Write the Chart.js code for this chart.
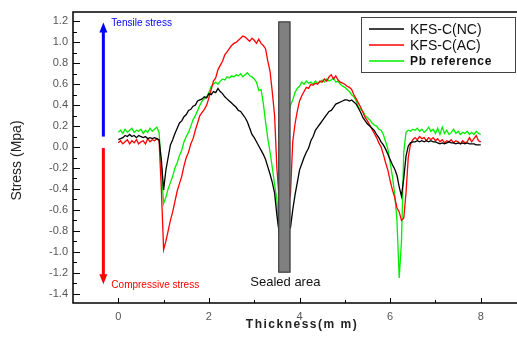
<!DOCTYPE html>
<html><head><meta charset="utf-8">
<script src="https://cdn.jsdelivr.net/npm/chart.js@4.4.0/dist/chart.umd.min.js"></script>
<style>html,body{margin:0;padding:0;background:#fff;}</style>
</head><body>
<canvas id="c" width="517" height="342"></canvas>
<script>
// sampling grid of the thickness axis (mm)
const thickness = Array.from({length:161},(_,i)=>Math.round(i*5)/100);
const seriesNames = ['KFS-C(NC)','KFS-C(AC)','Pb reference'];
const stressNC = [
 0.07,0.08,0.09,0.11,0.10,0.12,0.10,0.11,0.09,0.11,0.10,0.09,0.10,0.08,0.09,0.08,0.09,0.08,0.07,-0.12,
 -0.41,-0.22,-0.10,0.02,0.07,0.13,0.18,0.23,0.25,0.29,0.31,0.35,0.36,0.39,0.40,0.44,0.45,0.46,0.48,0.47,
 0.51,0.50,0.53,0.52,0.56,0.53,0.51,0.48,0.46,0.44,0.42,0.40,0.38,0.35,0.34,0.31,0.28,0.24,0.18,0.12,
 0.09,0.05,0.01,-0.03,-0.07,-0.12,-0.19,-0.26,-0.34,-0.44,-0.65,-0.82,-0.85,-0.85,-0.82,-0.79,-0.77,-0.60,-0.46,-0.34,
 -0.22,-0.16,-0.10,-0.05,-0.01,0.06,0.10,0.16,0.19,0.22,0.25,0.28,0.31,0.34,0.35,0.38,0.41,0.42,0.43,0.44,
 0.45,0.45,0.44,0.45,0.43,0.41,0.37,0.33,0.28,0.25,0.22,0.20,0.18,0.16,0.12,0.09,0.05,0.02,-0.02,-0.07,
 -0.12,-0.17,-0.21,-0.27,-0.38,-0.47,-0.30,-0.09,0.01,0.04,0.05,0.05,0.06,0.05,0.06,0.05,0.06,0.05,0.06,0.05,
 0.05,0.04,0.03,0.04,0.03,0.04,0.05,0.04,0.04,0.03,0.04,0.03,0.04,0.03,0.04,0.03,0.03,0.03,0.02,0.02,
 0.02];
const stressAC = [
 0.04,0.06,0.03,0.05,0.07,0.03,0.06,0.04,0.07,0.03,0.05,0.06,0.03,0.08,0.05,0.07,0.06,0.08,0.06,-0.40,
 -0.98,-0.90,-0.80,-0.70,-0.62,-0.52,-0.42,-0.35,-0.28,-0.18,-0.10,-0.05,0.03,0.08,0.16,0.23,0.30,0.33,0.36,0.40,
 0.47,0.55,0.63,0.66,0.74,0.78,0.82,0.88,0.91,0.94,0.97,0.99,1.00,1.02,1.04,1.06,1.05,1.03,1.01,1.04,
 1.02,0.99,1.03,0.99,0.97,0.94,0.82,0.72,0.52,0.30,-0.20,-0.50,-0.70,-0.75,-0.70,-0.55,-0.45,0.05,0.22,0.34,
 0.44,0.49,0.53,0.57,0.56,0.60,0.59,0.61,0.60,0.63,0.62,0.65,0.63,0.67,0.69,0.65,0.68,0.64,0.62,0.61,
 0.60,0.58,0.57,0.55,0.50,0.46,0.42,0.38,0.33,0.28,0.25,0.21,0.17,0.13,0.09,0.04,0.00,-0.07,-0.15,-0.22,
 -0.32,-0.41,-0.48,-0.58,-0.62,-0.70,-0.68,-0.44,-0.10,0.03,0.07,0.09,0.07,0.10,0.08,0.09,0.06,0.09,0.07,0.09,
 0.06,0.08,0.05,0.07,0.04,0.06,0.05,0.07,0.04,0.06,0.05,0.03,0.06,0.04,0.05,0.09,0.05,0.08,0.11,0.06,
 0.05];
const stressPb = [
 0.14,0.16,0.13,0.17,0.14,0.16,0.18,0.14,0.16,0.15,0.17,0.13,0.16,0.14,0.18,0.15,0.17,0.19,0.14,-0.20,
 -0.54,-0.48,-0.40,-0.34,-0.28,-0.20,-0.15,-0.08,-0.03,0.05,0.10,0.14,0.20,0.26,0.30,0.35,0.40,0.44,0.46,0.48,
 0.52,0.58,0.60,0.62,0.60,0.63,0.65,0.64,0.67,0.66,0.68,0.67,0.69,0.68,0.70,0.67,0.69,0.71,0.68,0.67,
 0.65,0.62,0.54,0.55,0.42,0.24,0.08,-0.05,-0.20,-0.36,-0.50,-0.85,-0.60,-0.10,0.10,0.30,0.40,0.45,0.52,0.56,
 0.58,0.62,0.60,0.63,0.61,0.62,0.60,0.63,0.61,0.62,0.64,0.62,0.65,0.63,0.64,0.66,0.62,0.63,0.60,0.58,
 0.57,0.55,0.53,0.50,0.48,0.44,0.38,0.36,0.34,0.30,0.28,0.26,0.23,0.21,0.20,0.17,0.16,0.12,0.05,-0.02,
 -0.15,-0.28,-0.45,-0.70,-1.25,-0.90,-0.05,0.14,0.16,0.15,0.17,0.16,0.18,0.15,0.17,0.14,0.16,0.19,0.15,0.17,
 0.13,0.18,0.12,0.19,0.13,0.16,0.12,0.14,0.17,0.13,0.15,0.12,0.14,0.13,0.15,0.12,0.14,0.12,0.15,0.13,
 0.12];
const xTicks = [0,2,4,6,8];
const xMinorTicks = [1,3,5,7];
const yTicks = [-1.4,-1.2,-1.0,-0.8,-0.6,-0.4,-0.2,0.0,0.2,0.4,0.6,0.8,1.0,1.2];
const yMinorTicks = [-1.3,-1.1,-0.9,-0.7,-0.5,-0.3,-0.1,0.1,0.3,0.5,0.7,0.9,1.1];
const sealedArea = {x0:3.53, x1:3.80, y0:-1.2, y1:1.2};
const arrowX = -0.33;
const tensileArrow = [0.1, 1.19];
const compressiveArrow = [-0.01, -1.31];

const colors = ['#000000','#ff0000','#00ee00'];
const FONT = '"Liberation Sans", Arial, sans-serif';

function pts(ys){ return thickness.map((x,i)=>({x:x, y:ys[i]})); }

const deco = {
  id:'deco',
  afterDatasetsDraw(chart){
    const ctx = chart.ctx, xs = chart.scales.x, ys = chart.scales.y;
    // sealed area bar
    const bx0 = xs.getPixelForValue(sealedArea.x0), bx1 = xs.getPixelForValue(sealedArea.x1);
    const by0 = ys.getPixelForValue(sealedArea.y1), by1 = ys.getPixelForValue(sealedArea.y0);
    ctx.save();
    ctx.fillStyle = '#808080';
    ctx.fillRect(bx0, by0, bx1-bx0, by1-by0);
    ctx.strokeStyle = '#333';
    ctx.lineWidth = 1;
    ctx.strokeRect(bx0+0.5, by0+0.5, bx1-bx0-1, by1-by0-1);
    ctx.fillStyle = '#111';
    ctx.font = '13px ' + FONT;
    ctx.textAlign = 'center'; ctx.textBaseline = 'middle';
    ctx.fillText('Sealed area', (bx0+bx1)/2+1, by1+10);
    ctx.restore();
  },
  afterDraw(chart){
    const ctx = chart.ctx, xs = chart.scales.x, ys = chart.scales.y;
    const a = chart.chartArea;
    ctx.save();
    // frame
    ctx.strokeStyle = '#000'; ctx.lineWidth = 1.5;
    ctx.beginPath();
    ctx.moveTo(a.right+2, a.top); ctx.lineTo(a.left, a.top); ctx.lineTo(a.left, a.bottom); ctx.lineTo(a.right+2, a.bottom);
    ctx.stroke();
    // inward ticks
    ctx.lineWidth = 1;
    ctx.beginPath();
    yTicks.forEach(v=>{ const p = Math.round(ys.getPixelForValue(v))+0.5; ctx.moveTo(a.left, p); ctx.lineTo(a.left+7, p); });
    yMinorTicks.forEach(v=>{ const p = Math.round(ys.getPixelForValue(v))+0.5; ctx.moveTo(a.left, p); ctx.lineTo(a.left+4, p); });
    xTicks.forEach(v=>{ const p = Math.round(xs.getPixelForValue(v))+0.5; ctx.moveTo(p, a.bottom); ctx.lineTo(p, a.bottom-5); });
    xMinorTicks.forEach(v=>{ const p = Math.round(xs.getPixelForValue(v))+0.5; ctx.moveTo(p, a.bottom); ctx.lineTo(p, a.bottom-3); });
    ctx.stroke();
    // arrows
    const ax = xs.getPixelForValue(arrowX);
    function arrow(v0, v1, col){
      const p0 = ys.getPixelForValue(v0), p1 = ys.getPixelForValue(v1);
      const dir = p1 < p0 ? -1 : 1;
      ctx.strokeStyle = col; ctx.fillStyle = col; ctx.lineWidth = 3;
      ctx.beginPath(); ctx.moveTo(ax, p0); ctx.lineTo(ax, p1 - dir*8); ctx.stroke();
      ctx.beginPath(); ctx.moveTo(ax, p1); ctx.lineTo(ax-4, p1 - dir*10); ctx.lineTo(ax+4, p1 - dir*10); ctx.closePath(); ctx.fill();
    }
    arrow(tensileArrow[0], tensileArrow[1], '#0000ff');
    arrow(compressiveArrow[0], compressiveArrow[1], '#ff0000');
    ctx.font = '10px ' + FONT; ctx.textAlign = 'left'; ctx.textBaseline = 'middle';
    ctx.fillStyle = '#0000ff';
    ctx.fillText('Tensile stress', ax+8, ys.getPixelForValue(tensileArrow[1])+1);
    ctx.fillStyle = '#ff0000';
    ctx.fillText('Compressive stress', ax+8, ys.getPixelForValue(compressiveArrow[1])+1);
    // axis titles
    ctx.fillStyle = '#222';
    ctx.font = '14px ' + FONT;
    ctx.save();
    ctx.translate(17, (a.top+a.bottom)/2+3);
    ctx.rotate(-Math.PI/2);
    ctx.textAlign = 'center'; ctx.textBaseline = 'middle';
    ctx.fillText('Stress (Mpa)', 0, 0);
    ctx.restore();
    ctx.font = 'bold 12px ' + FONT;
    try { ctx.letterSpacing = '1.5px'; } catch(e) {}
    ctx.textAlign = 'center'; ctx.textBaseline = 'middle';
    ctx.fillText('Thickness(m m)', 302, 325);
    try { ctx.letterSpacing = '0px'; } catch(e) {}
    // legend
    const lx = 361, ly = 17, lw = 155, lh = 56;
    ctx.fillStyle = '#fff'; ctx.fillRect(lx, ly, lw, lh);
    ctx.strokeStyle = '#444'; ctx.lineWidth = 1;
    ctx.strokeRect(lx+0.5, ly+0.5, lw-1, lh-1);
    const rows = [29, 45, 61];
    seriesNames.forEach((n,i)=>{
      ctx.strokeStyle = colors[i]; ctx.lineWidth = 1.5;
      ctx.beginPath(); ctx.moveTo(369, rows[i]); ctx.lineTo(404, rows[i]); ctx.stroke();
      ctx.fillStyle = '#111';
      if (i === 2) { ctx.font = 'bold 12px ' + FONT; try { ctx.letterSpacing = '0.8px'; } catch(e) {} }
      else { ctx.font = '14px ' + FONT; try { ctx.letterSpacing = '0px'; } catch(e) {} }
      ctx.textAlign = 'left'; ctx.textBaseline = 'middle';
      ctx.fillText(n, 410, rows[i]+1);
    });
    try { ctx.letterSpacing = '0px'; } catch(e) {}
    ctx.restore();
  }
};

new Chart(document.getElementById('c'), {
  type: 'line',
  data: {
    datasets: [
      {label: seriesNames[0], data: pts(stressNC), borderColor: colors[0], borderWidth: 1.3},
      {label: seriesNames[1], data: pts(stressAC), borderColor: colors[1], borderWidth: 1.3},
      {label: seriesNames[2], data: pts(stressPb), borderColor: colors[2], borderWidth: 1.3}
    ]
  },
  options: {
    responsive: false,
    animation: false,
    parsing: false,
    elements: { point: { radius: 0 }, line: { tension: 0 } },
    layout: { padding: { top: 12, left: 0, right: 0, bottom: 0 } },
    plugins: { legend: { display: false }, tooltip: { enabled: false } },
    scales: {
      x: {
        type: 'linear', min: -1, max: 8.8,
        afterBuildTicks(s){ s.ticks = xTicks.map(v=>({value:v})); },
        afterFit(s){ s.height = 39; },
        grid: { display: false, drawTicks: false },
        border: { display: false },
        ticks: { padding: 7, color: '#555', font: { size: 11, family: FONT }, callback: v => String(v) }
      },
      y: {
        type: 'linear', min: -1.49, max: 1.29,
        afterBuildTicks(s){ s.ticks = yTicks.map(v=>({value:v})); },
        afterFit(s){ s.width = 73; },
        grid: { display: false, drawTicks: false },
        border: { display: false },
        ticks: { padding: 5, color: '#555', font: { size: 11, family: FONT }, callback: v => Number(v).toFixed(1) }
      }
    }
  },
  plugins: [deco]
});
</script>
</body></html>
